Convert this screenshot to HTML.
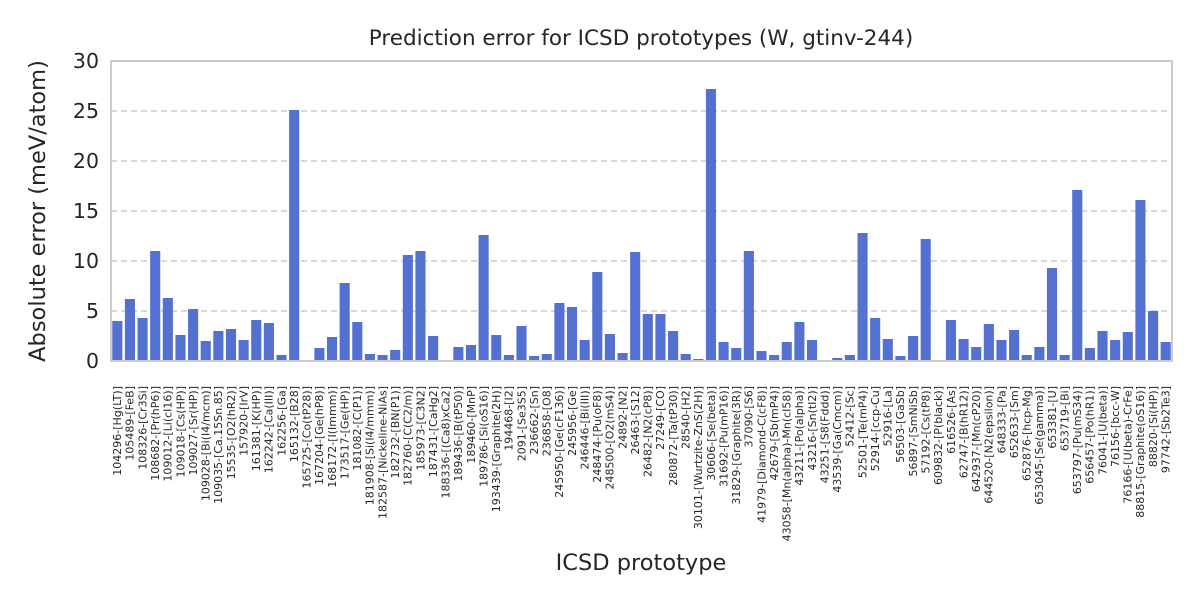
<!DOCTYPE html>
<html><head><meta charset="utf-8"><style>
body{margin:0;background:#fff;}
svg text{font-family:"DejaVu Sans","Liberation Sans",sans-serif;fill:#262626;}
</style></head><body>
<svg id="chart" width="1200" height="600" viewBox="0 0 1200 600" xmlns="http://www.w3.org/2000/svg">
<rect width="1200" height="600" fill="#fff"/>
<text x="641" y="45" font-size="21.5" text-anchor="middle">Prediction error for ICSD prototypes (W, gtinv-244)</text>
<g id="grid"></g>
<g id="bars"></g>
<g id="yticks"></g>
<g id="xticks"></g>
<rect x="111" y="61" width="1061" height="300" fill="none" stroke="#cccccc" stroke-width="2"/>
<text transform="translate(45,211) rotate(-90)" font-size="22.5" text-anchor="middle">Absolute error (meV/atom)</text>
<text x="641" y="570" font-size="22.5" text-anchor="middle">ICSD prototype</text>
</svg>
<script>
const categories=["104296-[Hg(LT)]","105489-[FeB]","108326-[Cr3Si]","108682-[Pr(hP6)]","109012-[Li(cI16)]","109018-[Cs(HP)]","109027-[Sr(HP)]","109028-[Bi(I4/mcm)]","109035-[Ca.15Sn.85]","15535-[O2(hR2)]","157920-[IrV]","161381-[K(HP)]","162242-[Ca(III)]","162256-[Ga]","165132-[B28]","165725-[Co(tP28)]","167204-[Ge(hP8)]","168172-[I(Immm)]","173517-[Ge(HP)]","181082-[C(P1)]","181908-[Si(I4/mmm)]","182587-[Nickeline-NiAs]","182732-[BN(P1)]","182760-[C(C2/m)]","185973-[C3N2]","187431-[CaHg2]","188336-[(Ca8)xCa2]","189436-[B(tP50)]","189460-[MnP]","189786-[Si(oS16)]","193439-[Graphite(2H)]","194468-[I2]","2091-[Se3S5]","236662-[Sn]","236858-[O8]","245950-[Ge(cF136)]","245956-[Ge]","246446-[Bi(III)]","248474-[Pu(oF8)]","248500-[O2(mS4)]","24892-[N2]","26463-[S12]","26482-[N2(cP8)]","27249-[CO]","280872-[Ta(tP30)]","28540-[H2]","30101-[Wurtzite-ZnS(2H)]","30606-[Se(beta)]","31692-[Pu(mP16)]","31829-[Graphite(3R)]","37090-[S6]","41979-[Diamond-C(cF8)]","42679-[Sb(mP4)]","43058-[Mn(alpha)-Mn(cI58)]","43211-[Po(alpha)]","43216-[Sn(tI2)]","43251-[S8(Fddd)]","43539-[Ga(Cmcm)]","52412-[Sc]","52501-[Te(mP4)]","52914-[ccp-Cu]","52916-[La]","56503-[GaSb]","56897-[SmNiSb]","57192-[Cs(tP8)]","609832-[P(black)]","616526-[As]","62747-[B(hR12)]","642937-[Mn(cP20)]","644520-[N2(epsilon)]","648333-[Pa]","652633-[Sm]","652876-[hcp-Mg]","653045-[Se(gamma)]","653381-[U]","653719-[Bi]","653797-[Pu(mS34)]","656457-[Po(hR1)]","76041-[U(beta)]","76156-[bcc-W]","76166-[U(beta)-CrFe]","88815-[Graphite(oS16)]","88820-[Si(HP)]","97742-[Sb2Te3]"];
const errors=[4.0,6.2,4.3,11.0,6.3,2.6,5.2,2.0,3.0,3.2,2.1,4.1,3.8,0.6,25.1,0.05,1.3,2.4,7.8,3.9,0.7,0.6,1.1,10.6,11.0,2.5,0.05,1.4,1.6,12.6,2.6,0.6,3.5,0.5,0.7,5.8,5.4,2.1,8.9,2.7,0.8,10.9,4.7,4.7,3.0,0.7,0.2,27.2,1.9,1.3,11.0,1.0,0.6,1.9,3.9,2.1,0.05,0.3,0.6,12.8,4.3,2.2,0.5,2.5,12.2,0.1,4.1,2.2,1.4,3.7,2.1,3.1,0.6,1.4,9.3,0.6,17.1,1.3,3.0,2.1,2.9,16.1,5.0,1.9];
const yTicks=[0,5,10,15,20,25,30];
const NS="http://www.w3.org/2000/svg";
const X0=111,X1=1172,Y0=361,Y1=61,YMAX=30;
const step=(X1-X0)/categories.length;
function xC(i){return X0+step*(i+0.5);}
function yS(v){return Y0-(v/YMAX)*(Y0-Y1);}
function mk(t,a,p){const e=document.createElementNS(NS,t);for(const k in a)e.setAttribute(k,a[k]);p.appendChild(e);return e;}
const grid=document.getElementById('grid'),yt=document.getElementById('yticks');
yTicks.forEach(v=>{
  if(v>0&&v<YMAX){const l=mk('line',{x1:X0,x2:X1,y1:yS(v),y2:yS(v),stroke:'#cccccc','stroke-width':1.6,'stroke-dasharray':'6,4'},grid);
  
  }
  const t=mk('text',{x:X0-12,y:yS(v)+7,'font-size':20.5,'text-anchor':'end'},yt);
  t.textContent=v;
  
  
});
const bars=document.getElementById('bars'),xt=document.getElementById('xticks');
const bw=step*0.8;
categories.forEach((c,i)=>{
  const v=errors[i];
  const r=mk('rect',{x:xC(i)-bw/2,y:yS(v),width:bw,height:Y0-yS(v),fill:'#5470d1'},bars);
  
  
  const t=mk('text',{transform:`translate(${xC(i)+3.8},386) rotate(-90)`,'font-size':11,'text-anchor':'end'},xt);
  t.textContent=c;
  
  
});
</script>
</body></html>
